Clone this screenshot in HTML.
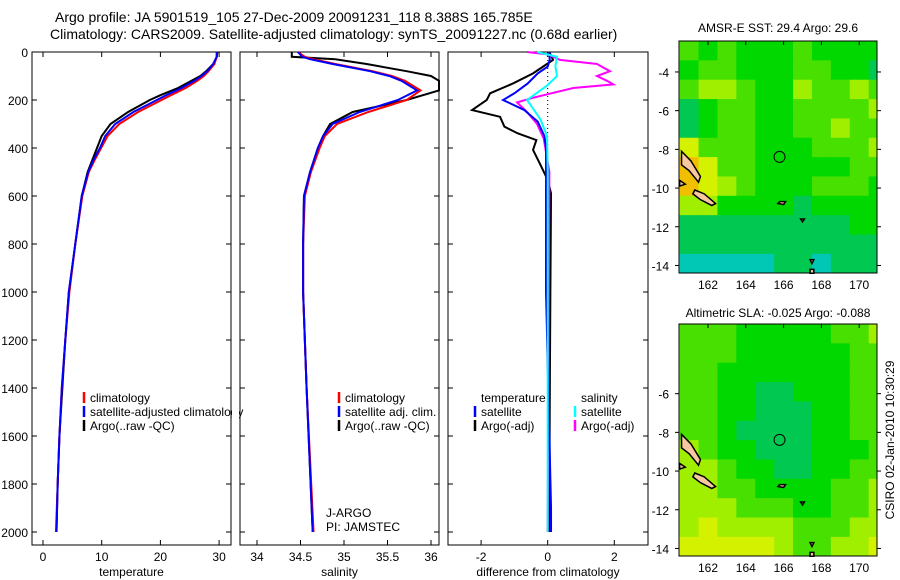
<!DOCTYPE html>
<html><head><meta charset="utf-8"><style>
body{margin:0;background:#fff}
svg{display:block;font-family:"Liberation Sans",sans-serif}
</style></head><body>
<svg id="c" width="900" height="580" xmlns="http://www.w3.org/2000/svg">
<text x="55" y="22" font-size="14">Argo profile: JA 5901519_105 27-Dec-2009 20091231_118 8.388S 165.785E</text>
<text x="50" y="39" font-size="14">Climatology: CARS2009. Satellite-adjusted climatology: synTS_20091227.nc (0.68d earlier)</text>
<text x="778" y="32" font-size="12" text-anchor="middle">AMSR-E SST: 29.4 Argo: 29.6</text>
<text x="778" y="317" font-size="12" text-anchor="middle">Altimetric SLA: -0.025 Argo: -0.088</text>
<text transform="translate(894,440) rotate(-90)" font-size="12" text-anchor="middle">CSIRO 02-Jan-2010 10:30:29</text>
</svg>
<script>
// ---- profile data ----
const tempDepth=[0,20,50,80,100,120,150,180,200,250,300,350,400,450,500,600,800,1000,1200,1400,1600,1800,2000];
const tempClim=[29.6,29.6,29.2,28.2,27.4,26.3,24.3,21.8,20.2,16.2,13.0,11.0,9.9,8.8,7.8,6.7,5.5,4.5,3.8,3.2,2.8,2.5,2.2];
const tempSat=[29.6,29.6,29.0,28.0,27.0,25.8,23.6,21.0,19.4,15.4,12.3,10.6,9.7,8.6,7.7,6.6,5.5,4.4,3.8,3.2,2.8,2.5,2.3];
const tempArgo=[29.7,29.6,29.0,27.8,26.8,25.3,23.0,20.0,18.2,14.5,11.5,10.0,9.2,8.4,7.6,6.6,5.5,4.4,3.8,3.3,2.8,2.5,2.3];
const salDepth=[0,20,30,50,80,100,120,160,200,250,300,350,400,500,600,800,1000,1400,2000];
const salClim=[34.47,34.55,34.65,34.90,35.33,35.55,35.70,35.88,35.72,35.28,34.92,34.78,34.72,34.62,34.55,34.53,34.53,34.57,34.65];
const salSat=[34.47,34.52,34.61,34.87,35.30,35.52,35.66,35.84,35.62,35.18,34.87,34.76,34.70,34.61,34.54,34.53,34.53,34.57,34.64];
const salArgo=[34.40,34.40,34.90,35.26,35.72,36.0,36.15,36.2,35.72,35.10,34.84,34.76,34.70,34.61,34.54,34.53,34.53,34.57,34.64];
const dTempArgoD=[0,33,61,89,131,172,200,242,270,311,339,367,408,464,533,589,1000,1500,2000];
const dTempArgo=[0.05,0.16,-0.14,-0.44,-1.04,-1.73,-1.83,-2.27,-1.43,-1.3,-0.9,-0.34,-0.44,-0.24,0,0.1,0.08,0.06,0.05];
const dTempSatD=[0,33,61,89,131,172,200,242,290,350,400,1000,1900,2000];
const dTempSat=[0.05,0.06,0,-0.3,-0.6,-1.0,-1.34,-0.7,-0.3,-0.1,-0.05,-0.05,0.1,0.1];
const dSalArgoD=[0,10,33,50,80,100,120,135,150,170,190,210,250,300,360,500,1000,2000];
const dSalArgo=[-0.62,0,0.37,1.48,1.87,1.48,1.78,1.97,0.77,0.17,-0.42,-0.92,-0.62,-0.32,-0.12,0.05,0.03,0.0];
const dSalSatD=[0,20,60,100,140,170,200,240,280,350,500,2000];
const dSalSat=[-0.32,0.28,0.23,0.28,-0.02,-0.32,-0.62,-0.42,-0.22,-0.02,0,0];
const depthTicks=[0,200,400,600,800,1000,1200,1400,1600,1800,2000];
const tempTicks=[0,10,20,30];
const salTicks=[34,34.5,35,35.5,36];
const diffTicks=[-2,0,2];
// ---- map data (colour level per 1° cell, rows top->bottom) ----
const sstGrid=[
[3,2,3,2,2,2,3,2,2,2,2],[2,3,3,2,2,2,3,3,2,2,1],[3,4,4,3,2,2,4,3,3,4,3],[1,2,3,3,2,2,3,3,3,3,4],
[1,2,3,3,2,2,3,3,4,3,3],[5,3,3,3,2,2,2,3,3,3,4],[6,5,3,3,2,2,2,2,2,3,3],[6,5,4,3,2,2,2,3,3,3,2],
[4,4,2,2,2,2,1,2,2,2,2],[1,1,1,1,1,1,1,1,1,2,2],[1,1,1,1,1,1,1,1,1,1,1],[0,0,0,0,0,1,1,0,1,1,1]];
const slaGrid=[
[3,3,3,2,2,2,2,2,3,3,4],[3,3,3,2,2,2,2,2,2,3,3],[3,3,2,2,2,2,2,2,2,3,3],[3,3,2,2,1,1,2,2,2,3,3],
[3,3,2,2,1,1,1,2,2,3,3],[3,3,2,1,1,1,1,2,2,3,3],[4,3,2,2,1,1,1,2,2,2,3],[4,4,3,2,2,1,1,2,2,3,3],
[4,4,3,3,2,2,2,2,3,3,4],[4,4,4,3,3,3,2,2,3,3,4],[4,5,4,4,4,4,3,3,3,4,4],[5,5,5,5,5,4,3,3,4,4,5]];
const lonTicks=[162,164,166,168,170];
const sstLatTicks=[-4,-6,-8,-10,-12,-14];
const slaLatTicks=[-6,-8,-10,-12,-14];
const argoLon=165.785, argoLat=-8.388;
const islands=[[[160.6,-8.1],[161.1,-8.6],[161.6,-9.4],[161.5,-9.7],[161.0,-9.1],[160.6,-8.8]],
[[161.3,-10.1],[161.8,-10.3],[162.4,-10.8],[162.2,-10.9],[161.6,-10.6],[161.2,-10.3]],
[[160.5,-9.6],[160.8,-9.8],[160.5,-9.9]],[[165.8,-10.7],[166.1,-10.7],[166.0,-10.85],[165.7,-10.8]],
[[167.4,-14.2],[167.6,-14.2],[167.6,-14.4],[167.4,-14.4]],[[167.4,-13.7],[167.6,-13.7],[167.5,-13.9]],
[[166.9,-11.6],[167.1,-11.6],[167.0,-11.75]]];
const pal=['#00c8b4','#00c850','#00d800','#48e000','#a0ee00','#d4f200','#f0c000'];

const S=document.getElementById('c'),NS='http://www.w3.org/2000/svg';
function mk(t,a,p){const e=document.createElementNS(NS,t);for(const k in a)e.setAttribute(k,a[k]);(p||S).appendChild(e);return e;}
const yD=d=>52+d*0.24;
function panel(x0,x1,xf,ticks,fmt,label,name,showY){
  const g=mk('g',{});
  
  
  mk('rect',{x:x0,y:52,width:x1-x0,height:493,fill:'none',stroke:'#000','stroke-width':1},g);
  depthTicks.forEach(d=>{const y=yD(d);
    mk('line',{x1:x0,x2:x0+5,y1:y,y2:y,stroke:'#000'},g);mk('line',{x1:x1-5,x2:x1,y1:y,y2:y,stroke:'#000'},g);
    if(showY){const t=mk('text',{x:28,y:y+5,'font-size':12,'text-anchor':'end'},g);t.textContent=d;
      }});
  ticks.forEach(v=>{const x=xf(v);
    mk('line',{x1:x,x2:x,y1:52,y2:57,stroke:'#000'},g);mk('line',{x1:x,x2:x,y1:540,y2:545,stroke:'#000'},g);
    const t=mk('text',{x:x,y:561,'font-size':12,'text-anchor':'middle'},g);t.textContent=fmt(v);
    });
  const t=mk('text',{x:(x0+x1)/2,y:576,'font-size':12,'text-anchor':'middle'},g);t.textContent=label;
  
  return g;
}
function line(xf,ds,vs,col,name,x0,x1){
  const pts=ds.map((d,i)=>[Math.max(x0,Math.min(x1,xf(vs[i]))),yD(d)]);
  const p=mk('polyline',{points:pts.map(q=>q.join(',')).join(' '),fill:'none',stroke:col,'stroke-width':2});
  
  
}
function legend(x,y,items){items.forEach((it,i)=>{
  if(it[1])mk('line',{x1:x,x2:x,y1:y+i*14-10,y2:y+i*14+1,stroke:it[1],'stroke-width':2.5});
  const t=mk('text',{x:x+6,y:y+i*14,'font-size':12});t.textContent=it[0];
  });}

const xT=v=>43+v*5.87, xS=v=>257+(v-34)*87, xDf=v=>547.7+v*33.3;
panel(32,231,xT,tempTicks,v=>v,'temperature','temperature-panel',true);
line(xT,tempDepth,tempArgo,'#000','temp-argo-line',32,231);
line(xT,tempDepth,tempClim,'#f00','temp-climatology-line',32,231);
line(xT,tempDepth,tempSat,'#00f','temp-satellite-line',32,231);
legend(84,402,[['climatology','#f00'],['satellite-adjusted climatology','#00f'],['Argo(..raw -QC)','#000']]);
mk('rect',{x:232,y:390,width:7,height:40,fill:'#fff'});
panel(240,439,xS,salTicks,v=>v,'salinity','salinity-panel',false);
line(xS,salDepth,salArgo,'#000','sal-argo-line',240,439);
line(xS,salDepth,salClim,'#f00','sal-climatology-line',240,439);
line(xS,salDepth,salSat,'#00f','sal-satellite-line',240,439);
legend(339,402,[['climatology','#f00'],['satellite adj. clim.','#00f'],['Argo(..raw -QC)','#000']]);
const j1=mk('text',{x:326,y:517,'font-size':12});j1.textContent='J-ARGO';
const j2=mk('text',{x:326,y:531,'font-size':12});j2.textContent='PI: JAMSTEC';
panel(448,648,xDf,diffTicks,v=>v,'difference from climatology','difference-panel',false);
mk('line',{x1:xDf(0),x2:xDf(0),y1:52,y2:yD(450),stroke:'#000','stroke-dasharray':'1,3'});
line(xDf,dTempArgoD,dTempArgo,'#000','diff-temp-argo-line',448,648);
line(xDf,dSalArgoD,dSalArgo,'#f0f','diff-sal-argo-line',448,648);
line(xDf,dTempSatD,dTempSat,'#00f','diff-temp-satellite-line',448,648);
line(xDf,dSalSatD,dSalSat,'#0ff','diff-sal-satellite-line',448,648);
legend(475,402,[['temperature',null],['satellite','#00f'],['Argo(-adj)','#000']]);
legend(575,402,[['salinity',null],['satellite','#0ff'],['Argo(-adj)','#f0f']]);

function map(grid,top,latTicks,name,lat0){
  const x0=679,x1=877,bottom=top+232;
  const lx=v=>708+(v-162)*18.9, ly=v=>top+(lat0-v)*19.35;
  const g=mk('g',{});
  
  
  grid.forEach((row,r)=>row.forEach((v,c)=>{
    const xa=Math.max(x0,lx(160.5+c)),xb=Math.min(x1,lx(161.5+c)),ya=ly(-2.4-r),yb=Math.min(bottom,ly(-3.4-r));
    const cell=mk('rect',{x:xa,y:ya,width:xb-xa+0.5,height:yb-ya+0.5,fill:pal[v]},g);
    
    
  }));
  islands.forEach(is=>mk('polygon',{points:is.map(p=>lx(p[0])+','+ly(p[1])).join(' '),fill:'#f8c8a0',stroke:'#000','stroke-width':1.5},g));
  mk('circle',{cx:lx(argoLon),cy:ly(argoLat),r:5.5,fill:'none',stroke:'#000'},g);
  mk('rect',{x:x0,y:top,width:x1-x0,height:bottom-top,fill:'none',stroke:'#000'},g);
  lonTicks.forEach(v=>{const x=lx(v);mk('line',{x1:x,x2:x,y1:top,y2:top+4,stroke:'#000'},g);
    const t=mk('text',{x:x,y:bottom+16,'font-size':12,'text-anchor':'middle'},g);t.textContent=v;});
  latTicks.forEach(v=>{const y=ly(v);mk('line',{x1:x0-4,x2:x0,y1:y,y2:y,stroke:'#000'},g);mk('line',{x1:x1,x2:x1+4,y1:y,y2:y,stroke:'#000'},g);
    const t=mk('text',{x:x0-10,y:y+5,'font-size':12,'text-anchor':'end'},g);t.textContent=v;});
}
map(sstGrid,41,sstLatTicks,'sst-map',-2.4);
map(slaGrid,324,slaLatTicks,'sla-map',-2.4);
</script>
</body></html>
